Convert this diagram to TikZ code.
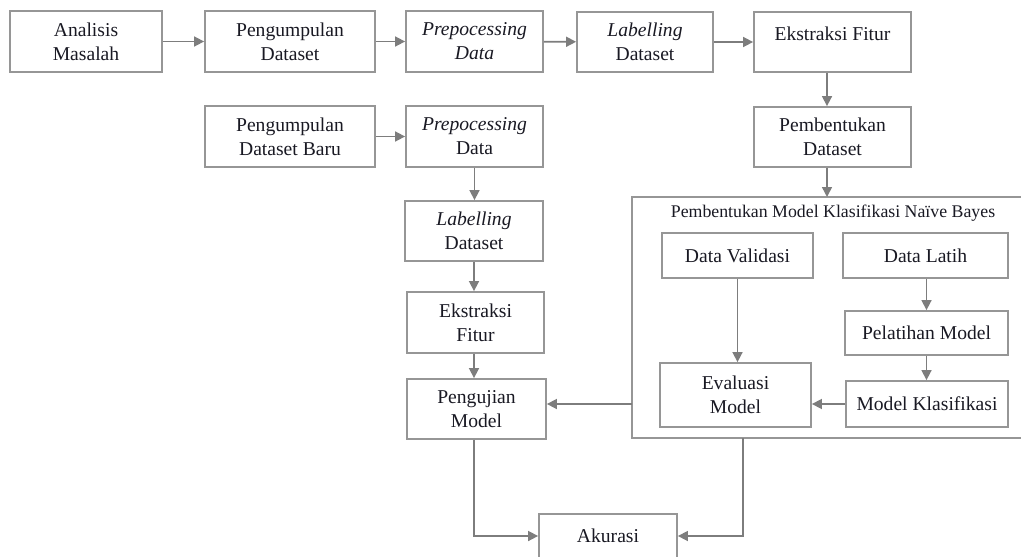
\documentclass[tikz,border=0pt]{standalone}
\usepackage{fontspec}
\setmainfont{Liberation Serif}
\usepackage{tikz}
\usetikzlibrary{arrows.meta,calc}
\definecolor{garis}{RGB}{150,150,150}
\definecolor{panah}{RGB}{125,125,125}
\definecolor{tulisan}{RGB}{25,25,35}

\begin{document}
\begin{tikzpicture}[x=0.5pt,y=-0.5pt,
		kotak/.style={draw=garis, line width=0.9pt, fill=white, align=center, inner sep=2pt, text=tulisan, font=\fontsize{9.8}{12}\selectfont},
		alur/.style={draw=panah, line width=0.8pt, -{Triangle[length=5pt,width=5pt]}}]
			\useasboundingbox (0,0) rectangle (1021,556);
			
			\node[kotak, minimum width=76pt, minimum height=30.5pt] (analisis) at (86,41.5) {Analisis\\Masalah};
			\node[kotak, minimum width=85pt, minimum height=30.5pt] (kumpul) at (290,41.5) {Pengumpulan\\Dataset};
			\node[kotak, minimum width=68.5pt, minimum height=30.5pt] (prep) at (474.5,41.5) {\textit{Prepocessing}\\\textit{Data}};
			\node[kotak, minimum width=68pt, minimum height=30pt] (label) at (645,42) {\textit{Labelling}\\Dataset};
			\node[kotak, minimum width=78.5pt, minimum height=30pt, text height=7pt, text depth=8pt] (ekstrak) at (832.5,42) {Ekstraksi Fitur};
			\node[kotak, minimum width=78.5pt, minimum height=30pt] (bentuk) at (832.5,137) {Pembentukan\\Dataset};
			
			\node[kotak, minimum width=85pt, minimum height=30.5pt] (kumpulbaru) at (290,136.5) {Pengumpulan\\Dataset Baru};
			\node[kotak, minimum width=68.5pt, minimum height=30.5pt] (prepbaru) at (474.5,136.5) {\textit{Prepocessing}\\Data};
			\node[kotak, minimum width=69pt, minimum height=30pt] (labelbaru) at (474,231) {\textit{Labelling}\\Dataset};
			\node[kotak, minimum width=68.5pt, minimum height=30.5pt] (ekstrakbaru) at (475.5,322.5) {Ekstraksi\\Fitur};
			\node[kotak, minimum width=69.5pt, minimum height=30pt] (uji) at (476.5,409) {Pengujian\\Model};
			
			\draw[draw=garis, line width=0.9pt] (632,197) rectangle (1040,438);
			\coordinate (wadahatas) at (827,197);
			\coordinate (wadahkiri) at (632,404);
			\coordinate (wadahbawah) at (743,438);
			\node[text=tulisan, font=\fontsize{8.9}{11}\selectfont] (judul) at (833,213) {Pembentukan Model Klasifikasi Naïve Bayes};
			
			\node[kotak, minimum width=75.5pt, minimum height=22.5pt] (validasi) at (737.5,255.5) {Data Validasi};
			\node[kotak, minimum width=82.5pt, minimum height=22.5pt] (latih) at (925.5,255.5) {Data Latih};
			\node[kotak, minimum width=81.5pt, minimum height=22pt] (pelatihan) at (926.5,333) {Pelatihan Model};
			\node[kotak, minimum width=81pt, minimum height=23pt] (klasifikasi) at (927,404) {Model Klasifikasi};
			\node[kotak, minimum width=75.5pt, minimum height=32pt] (evaluasi) at (735.5,395) {Evaluasi\\Model};
			
			\node[kotak, minimum width=69pt, minimum height=22pt] (akurasi) at (608,536) {Akurasi};
			
			\draw[alur] (analisis) -- (kumpul);
			\draw[alur] (kumpul) -- (prep);
			\draw[alur] (prep) -- (label);
			\draw[alur] (label) -- (ekstrak);
			\draw[alur] (ekstrak.south -| wadahatas) -- (wadahatas |- bentuk.north);
			\draw[alur] (bentuk.south -| wadahatas) -- (wadahatas);
			
			\draw[alur] (kumpulbaru) -- (prepbaru);
			\draw[alur] (prepbaru.south) -- (prepbaru.south |- labelbaru.north);
			\draw[alur] (labelbaru.south) -- (labelbaru.south |- ekstrakbaru.north);
			\draw[alur] (labelbaru.south |- ekstrakbaru.south) -- (labelbaru.south |- uji.north);
			
			\draw[alur] (latih.south -| pelatihan) -- (pelatihan);
			\draw[alur] (pelatihan) -- (klasifikasi.north -| pelatihan);
			\draw[alur] (klasifikasi.west) -- (klasifikasi.west -| evaluasi.east);
			\draw[alur] (validasi.south) -- (validasi.south |- evaluasi.north);
			\draw[alur] (wadahkiri) -- (wadahkiri -| uji.east);
			
			\draw[alur] (labelbaru.south |- uji.south) |- (akurasi.west);
			\draw[alur] (wadahbawah) |- (akurasi.east);
		\end{tikzpicture}
\end{document}
